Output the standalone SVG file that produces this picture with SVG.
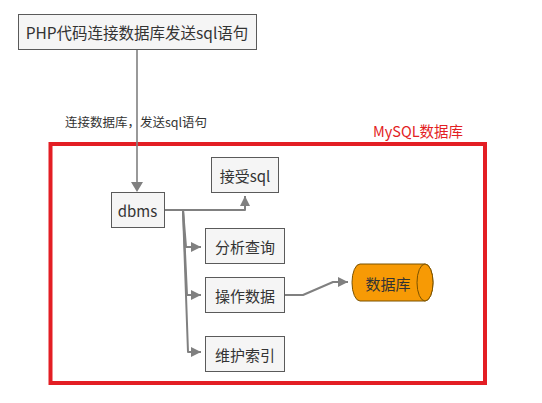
<svg xmlns="http://www.w3.org/2000/svg" width="542" height="403" viewBox="0 0 542 403">
<style>
.box{fill:#f5f5f5;stroke:#5a5a5a;stroke-width:1}
.t{font-family:"Noto Sans CJK SC","Noto Sans",sans-serif;fill:#333;text-anchor:middle;dominant-baseline:central}
.c{fill:none;stroke:#808080;stroke-width:2;stroke-linejoin:round}
</style>
<defs>
<marker id="ah" viewBox="0 0 10 10" refX="10" refY="5" markerWidth="5" markerHeight="5" markerUnits="strokeWidth" orient="auto">
<path d="M0,0 L10,5 L0,10 Z" fill="#808080"/>
</marker>
</defs>
<rect width="542" height="403" fill="#fff"/>
<g id="mysql">
<rect x="50.5" y="144" width="434.5" height="239" fill="none" stroke="#e31e24" stroke-width="4"/>
<text x="418" y="130" class="t" style="font-size:14.5px;fill:#e31e24">MySQL数据库</text>
</g>
<g id="connectors">
<path class="c" d="M137,49 L137,183" style="stroke-width:1.6"/>
<path d="M131,182 L143,182 L137,192 Z" fill="#808080"/>
<text x="136" y="121" class="t" style="font-size:12.5px">连接数据库，发送sql语句</text>
<path class="c" d="M165,210 L245,210 L245,196" marker-end="url(#ah)"/>
<path class="c" d="M183,210 L186,247 L201,247" marker-end="url(#ah)"/>
<path class="c" d="M183,210 L187,295 L201,295" marker-end="url(#ah)"/>
<path class="c" d="M183,210 L188,352 L201,352" marker-end="url(#ah)"/>
<path class="c" d="M285,295 L303,295 L333,282 L348,282" marker-end="url(#ah)"/>
</g>
<g id="php">
<rect class="box" x="18.5" y="14.5" width="238" height="35"/>
<text x="137" y="32" class="t" style="font-size:15.5px">PHP代码连接数据库发送sql语句</text>
</g>
<g id="dbms">
<rect class="box" x="111.5" y="192.5" width="53" height="35"/>
<text x="137.5" y="210" class="t" style="font-size:15px">dbms</text>
</g>
<g id="jieshou">
<rect class="box" x="211.5" y="157.5" width="67" height="35"/>
<text x="245" y="175" class="t" style="font-size:15px">接受sql</text>
</g>
<g id="fenxi">
<rect class="box" x="205.5" y="228.5" width="79" height="35"/>
<text x="245" y="246" class="t" style="font-size:15px">分析查询</text>
</g>
<g id="caozuo">
<rect class="box" x="205.5" y="277.5" width="79" height="35"/>
<text x="245" y="295" class="t" style="font-size:15px">操作数据</text>
</g>
<g id="weihu">
<rect class="box" x="205.5" y="336.5" width="79" height="35"/>
<text x="245" y="354" class="t" style="font-size:15px">维护索引</text>
</g>
<g id="db">
<path d="M425,264 L360,264 A8,18.5 0 0 0 360,301 L425,301 A8,18.5 0 0 0 425,264 Z" fill="#f79a05" stroke="#7a5200" stroke-width="1"/>
<ellipse cx="425" cy="282.5" rx="8" ry="18.5" fill="#f79a05" stroke="#7a5200" stroke-width="1"/>
<text x="388" y="283" class="t" style="font-size:15px">数据库</text>
</g>
</svg>
